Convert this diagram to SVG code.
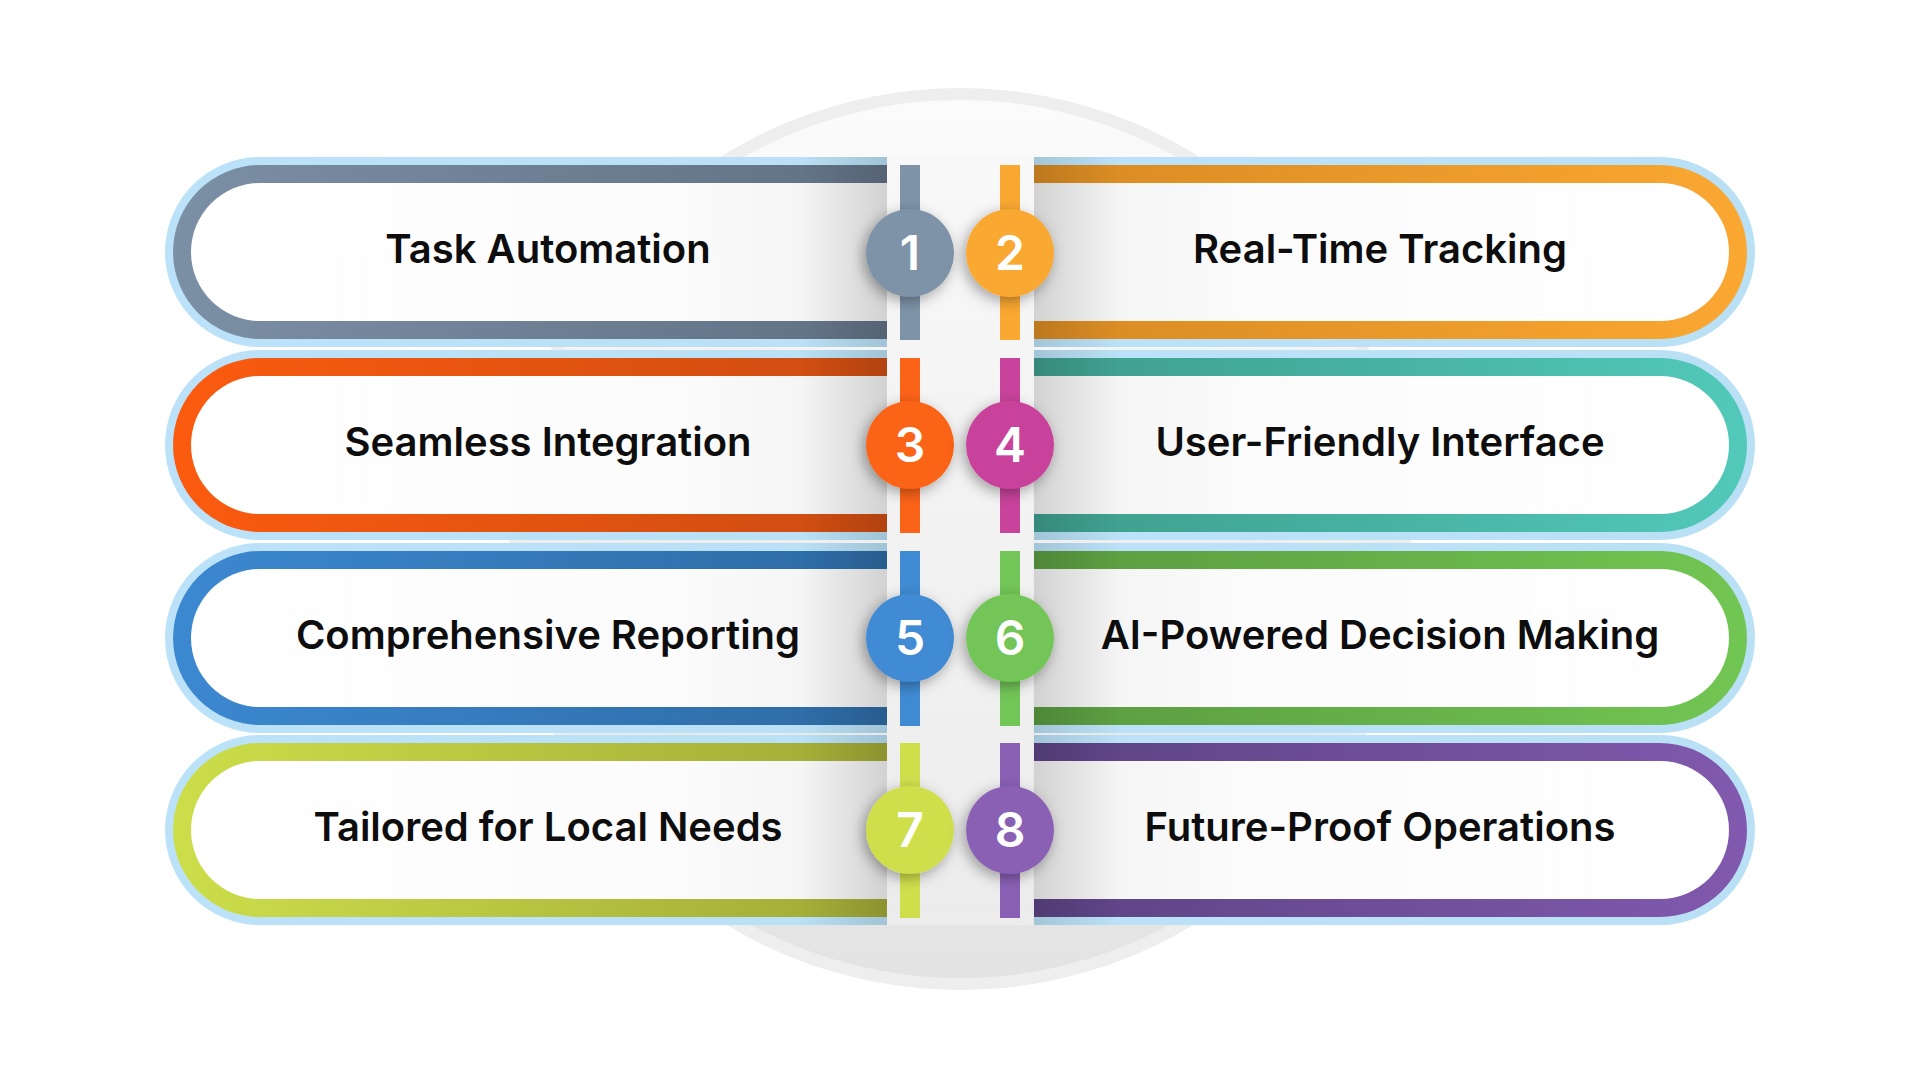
<svg xmlns="http://www.w3.org/2000/svg" width="1920" height="1080" viewBox="0 0 1920 1080">
<style>
.lbl{font-family:Inter,"Noto Sans","Liberation Sans",sans-serif;font-weight:600;font-size:40px;fill:#0d0d0d;text-anchor:middle}
.num{font-family:Inter,"Noto Sans","Liberation Sans",sans-serif;font-weight:600;font-size:48px;fill:#fff;text-anchor:middle}
.outer{fill:url(#blue)}
.wl{fill:url(#wL)}
.wr{fill:url(#wR)}
.circ{filter:url(#sh)}
</style>
<defs>
<linearGradient id="bg" x1="0" y1="0" x2="0" y2="1"><stop offset="0" stop-color="#fbfbfb"/><stop offset="1" stop-color="#e3e3e3"/></linearGradient>
<linearGradient id="col" x1="0" y1="0" x2="0" y2="1"><stop offset="0" stop-color="#f8f8f8"/><stop offset="1" stop-color="#ececec"/></linearGradient>
<linearGradient id="blue" x1="0" y1="0" x2="1" y2="0"><stop offset="0" stop-color="#bbe2f8"/><stop offset="1" stop-color="#b9e0f5"/></linearGradient>
<linearGradient id="wL" x1="0" y1="0" x2="1" y2="0"><stop offset="0" stop-color="#ffffff"/><stop offset="0.7" stop-color="#fbfbfb"/><stop offset="1" stop-color="#f1f1f1"/></linearGradient>
<linearGradient id="wR" x1="0" y1="0" x2="1" y2="0"><stop offset="0" stop-color="#f1f1f1"/><stop offset="0.3" stop-color="#fbfbfb"/><stop offset="1" stop-color="#ffffff"/></linearGradient>
<linearGradient id="shL" x1="0" y1="0" x2="1" y2="0"><stop offset="0" stop-color="#000" stop-opacity="0"/><stop offset="1" stop-color="#000" stop-opacity="0.13"/></linearGradient>
<linearGradient id="shR" x1="0" y1="0" x2="1" y2="0"><stop offset="0" stop-color="#000" stop-opacity="0.13"/><stop offset="1" stop-color="#000" stop-opacity="0"/></linearGradient>
<linearGradient id="g1" x1="0" y1="0" x2="1" y2="0"><stop offset="0" stop-color="#7b8fa5"/><stop offset="1" stop-color="#617184"/></linearGradient>
<linearGradient id="g2" x1="0" y1="0" x2="1" y2="0"><stop offset="0" stop-color="#d88a22"/><stop offset="1" stop-color="#faa832"/></linearGradient>
<linearGradient id="g3" x1="0" y1="0" x2="1" y2="0"><stop offset="0" stop-color="#fb5b0f"/><stop offset="1" stop-color="#cc4c12"/></linearGradient>
<linearGradient id="g4" x1="0" y1="0" x2="1" y2="0"><stop offset="0" stop-color="#3e9d8c"/><stop offset="1" stop-color="#52c9ba"/></linearGradient>
<linearGradient id="g5" x1="0" y1="0" x2="1" y2="0"><stop offset="0" stop-color="#3c88d1"/><stop offset="1" stop-color="#2d6aa3"/></linearGradient>
<linearGradient id="g6" x1="0" y1="0" x2="1" y2="0"><stop offset="0" stop-color="#5a9b40"/><stop offset="1" stop-color="#72c653"/></linearGradient>
<linearGradient id="g7" x1="0" y1="0" x2="1" y2="0"><stop offset="0" stop-color="#ccde4a"/><stop offset="1" stop-color="#a1a936"/></linearGradient>
<linearGradient id="g8" x1="0" y1="0" x2="1" y2="0"><stop offset="0" stop-color="#5c4384"/><stop offset="1" stop-color="#8159ae"/></linearGradient>
<filter id="sh" x="-50%" y="-50%" width="200%" height="200%"><feDropShadow dx="-3" dy="4" stdDeviation="7" flood-color="#000" flood-opacity="0.35"/></filter>
</defs>
<rect width="1920" height="1080" fill="#ffffff"/>
<g id="background">
<circle cx="960" cy="539" r="451" fill="#eeeeee"/>
<circle cx="960" cy="539" r="439" fill="url(#bg)"/>
<rect x="887" y="157" width="146" height="768" fill="url(#col)"/>
</g>
<g id="node1">
<path class="outer" d="M887,157 H260 A95,95 0 0 0 260,347 H887 Z"/>
<path fill="url(#g1)" d="M887,165 H260 A87,87 0 0 0 260,339 H887 Z"/>
<path class="wl" d="M887,183 H260 A69,69 0 0 0 260,321 H887 Z"/>
<rect x="800" y="157" width="87" height="190" fill="url(#shL)"/>
<text class="lbl" x="548" y="263">Task Automation</text>
</g>
<g id="node2">
<path class="outer" d="M1034,157 H1660 A95,95 0 0 1 1660,347 H1034 Z"/>
<path fill="url(#g2)" d="M1034,165 H1660 A87,87 0 0 1 1660,339 H1034 Z"/>
<path class="wr" d="M1034,183 H1660 A69,69 0 0 1 1660,321 H1034 Z"/>
<rect x="1034" y="157" width="87" height="190" fill="url(#shR)"/>
<text class="lbl" x="1380" y="263">Real-Time Tracking</text>
</g>
<g id="node3">
<path class="outer" d="M887,350 H260 A95,95 0 0 0 260,540 H887 Z"/>
<path fill="url(#g3)" d="M887,358 H260 A87,87 0 0 0 260,532 H887 Z"/>
<path class="wl" d="M887,376 H260 A69,69 0 0 0 260,514 H887 Z"/>
<rect x="800" y="350" width="87" height="190" fill="url(#shL)"/>
<text class="lbl" x="548" y="456">Seamless Integration</text>
</g>
<g id="node4">
<path class="outer" d="M1034,350 H1660 A95,95 0 0 1 1660,540 H1034 Z"/>
<path fill="url(#g4)" d="M1034,358 H1660 A87,87 0 0 1 1660,532 H1034 Z"/>
<path class="wr" d="M1034,376 H1660 A69,69 0 0 1 1660,514 H1034 Z"/>
<rect x="1034" y="350" width="87" height="190" fill="url(#shR)"/>
<text class="lbl" x="1380" y="456">User-Friendly Interface</text>
</g>
<g id="node5">
<path class="outer" d="M887,543 H260 A95,95 0 0 0 260,733 H887 Z"/>
<path fill="url(#g5)" d="M887,551 H260 A87,87 0 0 0 260,725 H887 Z"/>
<path class="wl" d="M887,569 H260 A69,69 0 0 0 260,707 H887 Z"/>
<rect x="800" y="543" width="87" height="190" fill="url(#shL)"/>
<text class="lbl" x="548" y="649">Comprehensive Reporting</text>
</g>
<g id="node6">
<path class="outer" d="M1034,543 H1660 A95,95 0 0 1 1660,733 H1034 Z"/>
<path fill="url(#g6)" d="M1034,551 H1660 A87,87 0 0 1 1660,725 H1034 Z"/>
<path class="wr" d="M1034,569 H1660 A69,69 0 0 1 1660,707 H1034 Z"/>
<rect x="1034" y="543" width="87" height="190" fill="url(#shR)"/>
<text class="lbl" x="1380" y="649">AI-Powered Decision Making</text>
</g>
<g id="node7">
<path class="outer" d="M887,735 H260 A95,95 0 0 0 260,925 H887 Z"/>
<path fill="url(#g7)" d="M887,743 H260 A87,87 0 0 0 260,917 H887 Z"/>
<path class="wl" d="M887,761 H260 A69,69 0 0 0 260,899 H887 Z"/>
<rect x="800" y="735" width="87" height="190" fill="url(#shL)"/>
<text class="lbl" x="548" y="841">Tailored for Local Needs</text>
</g>
<g id="node8">
<path class="outer" d="M1034,735 H1660 A95,95 0 0 1 1660,925 H1034 Z"/>
<path fill="url(#g8)" d="M1034,743 H1660 A87,87 0 0 1 1660,917 H1034 Z"/>
<path class="wr" d="M1034,761 H1660 A69,69 0 0 1 1660,899 H1034 Z"/>
<rect x="1034" y="735" width="87" height="190" fill="url(#shR)"/>
<text class="lbl" x="1380" y="841">Future-Proof Operations</text>
</g>
<g id="connectors">
<rect x="900" y="165" width="20" height="175" fill="#7e93a8"/>
<rect x="1000" y="165" width="20" height="175" fill="#f9a831"/>
<rect x="900" y="358" width="20" height="175" fill="#fb6318"/>
<rect x="1000" y="358" width="20" height="175" fill="#c8439b"/>
<rect x="900" y="551" width="20" height="175" fill="#3f8bd3"/>
<rect x="1000" y="551" width="20" height="175" fill="#72c557"/>
<rect x="900" y="743" width="20" height="175" fill="#cfdf4c"/>
<rect x="1000" y="743" width="20" height="175" fill="#8a60b4"/>
</g>
<g id="badges">
<circle class="circ" cx="910" cy="253" r="44" fill="#7e93a8"/>
<text class="num" x="910" y="270">1</text>
<circle class="circ" cx="1010" cy="253" r="44" fill="#f9a831"/>
<text class="num" x="1010" y="270">2</text>
<circle class="circ" cx="910" cy="445" r="44" fill="#fb6318"/>
<text class="num" x="910" y="462">3</text>
<circle class="circ" cx="1010" cy="445" r="44" fill="#c8439b"/>
<text class="num" x="1010" y="462">4</text>
<circle class="circ" cx="910" cy="638" r="44" fill="#3f8bd3"/>
<text class="num" x="910" y="655">5</text>
<circle class="circ" cx="1010" cy="638" r="44" fill="#72c557"/>
<text class="num" x="1010" y="655">6</text>
<circle class="circ" cx="910" cy="830" r="44" fill="#cfdf4c"/>
<text class="num" x="910" y="847">7</text>
<circle class="circ" cx="1010" cy="830" r="44" fill="#8a60b4"/>
<text class="num" x="1010" y="847">8</text>
</g>
</svg>
